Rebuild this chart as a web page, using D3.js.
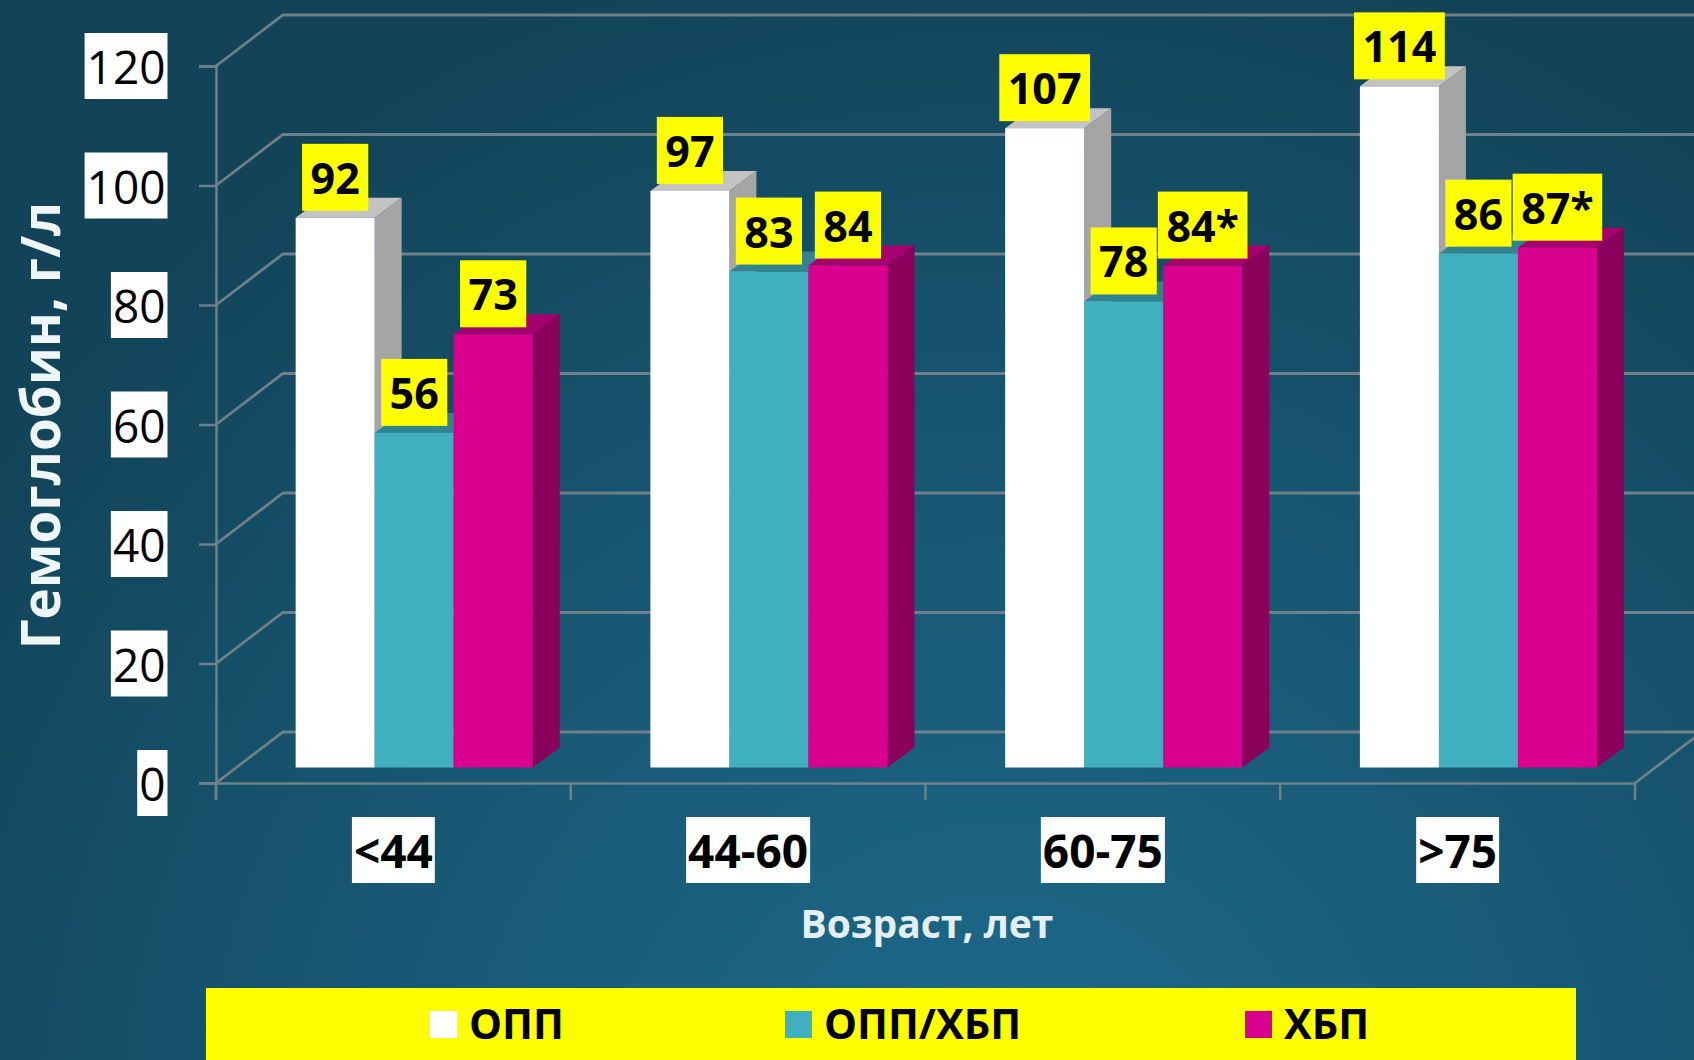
<!DOCTYPE html>
<html>
<head>
<meta charset="utf-8">
<script src="https://cdn.jsdelivr.net/npm/d3@7"></script>
<style>
  html, body { margin: 0; padding: 0; background: #174f6b; overflow: hidden; }
  svg { display: block; }
  text { font-family: "Open Sans", sans-serif; }
</style>
</head>
<body>
<div id="chart"></div>
<script>
// Data (bar heights, the labels show them rounded)
const ageGroups = ["<44", "44-60", "60-75", ">75"];
const seriesNames = ["ОПП", "ОПП/ХБП", "ХБП"];
const oppValues = [92, 96.5, 107, 114];
const oppHbpValues = [56, 83, 78, 86];
const hbpValues = [72.5, 84, 84, 87];
const hbpNotes = ["", "", "*", "*"];
const yTicks = [0, 20, 40, 60, 80, 100, 120];
const yTitle = "Гемоглобин, г/л";
const xTitle = "Возраст, лет";

const width = 1694, height = 1060;
const seriesValues = [oppValues, oppHbpValues, hbpValues];
const seriesNotes = [["", "", "", ""], ["", "", "", ""], hbpNotes];
const faces = [
    {front: "#ffffff", top: "#c3c3c3", side: "#a5a5a5"},
    {front: "#40afbf", top: "#31838f", side: "#2a7480"},
    {front: "#d90090", top: "#a6006e", side: "#8a005b"}
];

// Depth of the 3d box: back wall and bars are shifted from the front plane
const wall = {dx: 67, dy: -51};
const bar = {dx: 20.8, dy: -15.5, depthX: 27, depthY: -20};

const x = d3.scaleBand().domain(ageGroups).range([216, 1635]);
const xInner = d3.scaleBand().domain(seriesNames).range([0, x.bandwidth()]).paddingOuter(0.745);
const y = d3.scaleLinear().domain([0, 120]).range([783, 66]);

const svg = d3.select("#chart").append("svg")
    .attr("width", width)
    .attr("height", height);

// Background
const defs = svg.append("defs");
const bg = defs.append("radialGradient")
    .attr("id", "bg")
    .attr("gradientUnits", "userSpaceOnUse")
    .attr("cx", 1000).attr("cy", 1150).attr("r", 1250);
bg.append("stop").attr("offset", "0%").attr("stop-color", "#1e6b8c");
bg.append("stop").attr("offset", "50%").attr("stop-color", "#185874");
bg.append("stop").attr("offset", "100%").attr("stop-color", "#124358");
svg.append("rect").attr("width", width).attr("height", height).attr("fill", "url(#bg)");

const gridColor = "#6e8088";

// Walls of the 3d box
const grid = svg.append("g").attr("fill", "none").attr("stroke", gridColor).attr("stroke-width", 2.8);
yTicks.forEach(t => {
    grid.append("path")
        .attr("d", d3.line()([
            [x.range()[0], y(t)],
            [x.range()[0] + wall.dx, y(t) + wall.dy],
            [width + 5, y(t) + wall.dy]
        ]));
});
grid.append("line")
    .attr("x1", x.range()[1]).attr("y1", y(0))
    .attr("x2", x.range()[1] + wall.dx).attr("y2", y(0) + wall.dy);

// Axes (ticks and lines only, labels go in boxes further down)
const yAxis = svg.append("g")
    .attr("transform", `translate(${x.range()[0]},0)`)
    .call(d3.axisLeft(y).tickValues(yTicks).tickSize(17).tickFormat(""));
const xAxis = svg.append("g")
    .attr("transform", `translate(0,${y(0)})`)
    .call(d3.axisBottom(x).tickSize(0).tickFormat(""));
xAxis.selectAll(".tick").remove();
xAxis.selectAll(".edge")
    .data([...ageGroups.map(d => x(d)), x.range()[1]])
    .enter().append("line")
    .attr("x1", d => d).attr("x2", d => d)
    .attr("y1", 0).attr("y2", 17);
xAxis.selectAll("line").attr("stroke", gridColor).attr("stroke-width", 2.5);
yAxis.selectAll("line").attr("stroke", gridColor).attr("stroke-width", 2.5);
svg.selectAll(".domain").attr("stroke", gridColor).attr("stroke-width", 2.5);
yAxis.append("line")
    .attr("x1", 0).attr("x2", 0)
    .attr("y1", y(0)).attr("y2", y(0) + 17)
    .attr("stroke", gridColor).attr("stroke-width", 2.5);

// Bars, drawn series by series so the next front face covers the side before it
const barsG = svg.append("g");
ageGroups.forEach((group, gi) => {
    seriesNames.forEach((name, si) => {
        const x0 = x(group) + xInner(name) + bar.dx;
        const x1 = x0 + xInner.bandwidth();
        const yTop = y(seriesValues[si][gi]) + bar.dy;
        const yBase = y(0) + bar.dy;
        const f = faces[si];
        barsG.append("path").attr("fill", f.top)
            .attr("d", d3.line()([[x0, yTop], [x0 + bar.depthX, yTop + bar.depthY], [x1 + bar.depthX, yTop + bar.depthY], [x1, yTop]]) + "Z");
        barsG.append("path").attr("fill", f.side)
            .attr("d", d3.line()([[x1, yTop], [x1 + bar.depthX, yTop + bar.depthY], [x1 + bar.depthX, yBase + bar.depthY], [x1, yBase]]) + "Z");
        barsG.append("rect").attr("fill", f.front)
            .attr("x", x0).attr("y", yTop)
            .attr("width", xInner.bandwidth()).attr("height", yBase - yTop);
    });
});

// Text on a filled box, the box is sized from the measured text
function boxedText(parent, opts) {
    const g = parent.append("g");
    const rect = g.append("rect").attr("fill", opts.fill);
    const t = g.append("text")
        .attr("y", opts.top + opts.base)
        .attr("font-size", opts.size)
        .attr("font-weight", opts.weight)
        .attr("fill", "#000")
        .text(opts.text);
    const w = t.node().getComputedTextLength();
    const boxW = w + opts.pad * 2;
    const left = opts.right !== undefined ? opts.right - boxW : opts.cx - boxW / 2;
    t.attr("x", left + opts.pad);
    rect.attr("x", left).attr("y", opts.top).attr("width", boxW).attr("height", opts.h);
}

// Value labels
const labelsG = svg.append("g");
ageGroups.forEach((group, gi) => {
    seriesNames.forEach((name, si) => {
        const v = seriesValues[si][gi];
        boxedText(labelsG, {
            text: Math.round(v) + seriesNotes[si][gi],
            cx: x(group) + xInner(name) + bar.dx + xInner.bandwidth() / 2,
            top: y(v) + bar.dy - 74,
            h: 67,
            base: 50,
            size: 43,
            weight: 700,
            pad: 8.5,
            fill: "#ffff00"
        });
    });
});

// Y tick labels
yTicks.forEach(t => boxedText(svg, {
    text: t, right: 167.5, top: y(t) - 33, h: 66, base: 51, size: 46, weight: 400, pad: 2, fill: "#fff"
}));

// Category labels
ageGroups.forEach(group => boxedText(svg, {
    text: group,
    cx: x(group) + x.bandwidth() / 2,
    top: 817, h: 66, base: 51, size: 46, weight: 700, pad: 2, fill: "#fff"
}));

// Titles
svg.append("text")
    .attr("x", 927).attr("y", 938)
    .attr("text-anchor", "middle")
    .attr("font-size", 39).attr("font-weight", 700)
    .attr("fill", "#e3eff3")
    .text(xTitle);
svg.append("text")
    .attr("transform", "translate(60,425.5) rotate(-90)")
    .attr("text-anchor", "middle")
    .attr("font-size", 53).attr("font-weight", 700)
    .attr("fill", "#eef6f8")
    .text(yTitle);

// Legend
const legend = svg.append("g");
legend.append("rect")
    .attr("x", 206).attr("y", 988)
    .attr("width", 1370).attr("height", 72)
    .attr("fill", "#ffff00");
const legendX = d3.scaleOrdinal().domain(seriesNames).range([430, 785, 1245]);
seriesNames.forEach((name, si) => {
    legend.append("rect")
        .attr("x", legendX(name)).attr("y", 1011)
        .attr("width", 27).attr("height", 27)
        .attr("fill", faces[si].front);
    legend.append("text")
        .attr("x", legendX(name) + 39).attr("y", 1039)
        .attr("font-size", 41.5).attr("font-weight", 700)
        .attr("fill", "#000")
        .text(name);
});
</script>
</body>
</html>
